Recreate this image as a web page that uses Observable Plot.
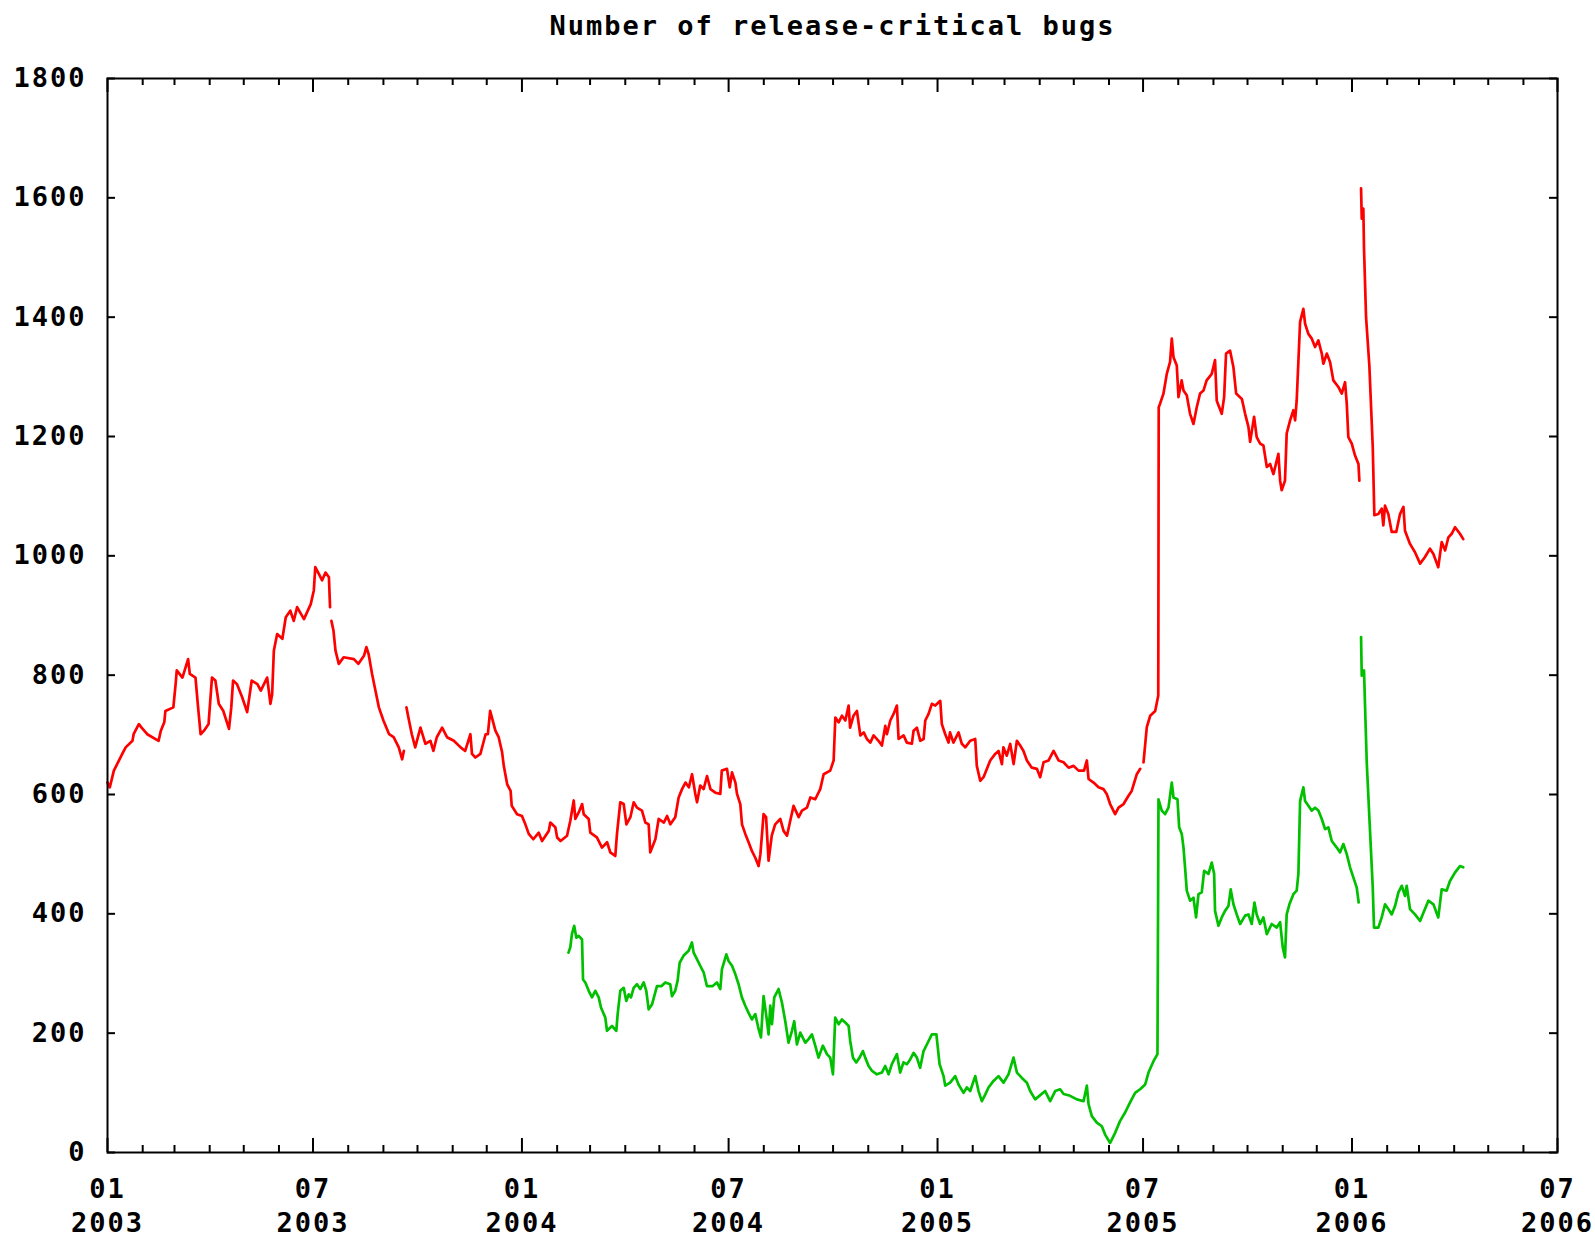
<!DOCTYPE html>
<html>
<head>
<meta charset="utf-8">
<script src="https://cdn.jsdelivr.net/npm/d3@7"></script>
<script src="https://cdn.jsdelivr.net/npm/@observablehq/plot@0.6"></script>
<style>
  body { margin: 0; background: #fff; }
  #chart svg { display: block; }
  #chart svg text { letter-spacing: 2px; }
</style>
</head>
<body>
<div id="chart"></div>
<script>
// ---------- chart text & axes ----------
const title = "Number of release-critical bugs";
const originDate = "2003-01-01";            // day 0 of the day offsets below
const xDomain = ["2003-01-01", "2006-07-01"];
const yDomain = [0, 1800];
const yTicks = [0, 200, 400, 600, 800, 1000, 1200, 1400, 1600, 1800];
const xMajorTicks = ["2003-01-01", "2003-07-01", "2004-01-01", "2004-07-01", "2005-01-01", "2005-07-01", "2006-01-01", "2006-07-01"];
const xMajorLabels = ["01\n2003", "07\n2003", "01\n2004", "07\n2004", "01\n2005", "07\n2005", "01\n2006", "07\n2006"];
const xMinorTicks = [
  "2003-02-01","2003-03-01","2003-04-01","2003-05-01","2003-06-01","2003-08-01","2003-09-01","2003-10-01","2003-11-01","2003-12-01",
  "2004-02-01","2004-03-01","2004-04-01","2004-05-01","2004-06-01","2004-08-01","2004-09-01","2004-10-01","2004-11-01","2004-12-01",
  "2005-02-01","2005-03-01","2005-04-01","2005-05-01","2005-06-01","2005-08-01","2005-09-01","2005-10-01","2005-11-01","2005-12-01",
  "2006-02-01","2006-03-01","2006-04-01","2006-05-01","2006-06-01"
];

// ---------- series 1 (red): days since 2003-01-01, value (null = gap) ----------
const redDays = [
  0,2,5.6,13,16,22,23,27.6,30,35,45,47,50,51,58,60,61,66,71,72.5,77.5,79.5,82,85,89,92,95,98,102,107,109,110.6,114,118.6,123,127,132,135,140.6,143.5,145,146.5,149.4,154,157,161,164,167,173,179,181.7,183,186,189,192,195,196,
  196.6,
  197.2,199,200.8,203.7,208,217,221,226,228,230,233,236,239,243,248,252,256.5,259.5,261,
  262,
  263.3,265,268,271,275.6,280,284.4,287,290,294.7,299,305,311,315,319.6,321,324,328.4,333,335,
  337,341.6,344.5,347.5,349,352,355,356,360.7,365,368,371,375,379.8,382.7,388.6,390,394.4,396,399,404.7,407.6,410.6,412,415,418,419.4,423.8,425.2,431,435.5,440,442.8,447.2,448.7,451.6,454.6,457,460.5,463.4,466.3,470.7,473.7,476.6,478,482.5,485.4,490,492.8,495.7,500,503,506,509,512,514.8,517.7,519.2,522,525,528,531,535.3,539.7,541,545.6,548,550,553,554.4,557.3,558.8,561.7,564.6,567.6,570.5,573.4,575,577.8,580,582.2,585,588,592.5,595.4,598.4,601.3,604.2,608.7,611.6,616,619,623.3,627.7,630.7,636.5,639.5,641,643.9,646.8,649.8,652.7,654,657,660,663,666,668.8,671.8,674.7,679,682,685,686.4,689.4,692.3,695.2,696.7,701.1,704,708.4,709.9,712.8,715.8,718.7,720.2,723.1,726,729,733.4,734.8,737.8,740.7,742,745,749.5,752.4,755.4,759.8,764.2,765.6,768.6,771.5,774.5,777.4,781.8,784.7,
  787.7,789,792,795,798,800.9,803.8,806.7,809.7,814,818.5,821.4,824.4,828.8,833.2,837.6,842,846.4,850.8,855.2,860,862.5,864,868.4,872.8,877.2,880,883,887.4,890.4,894.8,899.2,902,906.5,909.5,
  911,
  912.4,915.3,918.3,922.7,925.4,925.8,927,930,932.9,935.8,937.3,938.8,941.7,943.2,946,947.6,950.5,953.4,956.4,959.3,962.2,965.2,968,972.5,975.4,976.9,981.3,983.4,985.1,988.6,991.6,994,999,1001.9,1004.8,1006.3,1009.8,1012.1,1015.1,1018,1021,1023.9,1026.8,1031.2,1032.7,1034.1,1037,1038.5,1041.5,1044.4,1045.9,1047.3,1050.3,1053.2,1054.7,1057.6,1060.6,1063.5,1066.4,1069.4,1070.8,1073.8,1076.7,1079.6,1084,1087,1089.9,1091.4,1092.8,1095.8,1098.7,1101.7,1102.5,
  1103.2,
  1104,1104.6,1106,1106.6,1108.4,1111.3,1114.3,1115.7,1119.2,1122.2,1123.6,1125.1,1128,1131,1135,1138.3,1141.3,1142.7,1147.1,1151.5,1156,1160.3,1164.7,1167.7,1172,1175,1178,1180.9,1183.8,1186.8,1191.1,1194
];
const redValues = [
  620,612,640,668,679,690,701,718,712,701,690,707,721,740,746,785,808,796,827,802,796,752,701,707,718,796,791,752,740,710,746,791,785,763,738,791,785,774,796,752,768,841,869,861,897,908,891,914,894,919,942,981,970,959,972,964,914,
  null,
  891,875,841,819,830,827,819,833,847,835,802,774,746,724,701,696,679,659,673,
  null,
  746,729,701,679,712,685,690,673,696,712,696,690,679,673,701,668,662,668,701,701,
  740,707,696,671,648,617,606,581,567,564,550,534,525,536,522,539,553,545,528,522,531,556,590,559,570,584,567,559,536,528,511,520,503,497,534,587,584,550,562,587,578,573,553,550,503,525,559,553,564,550,562,595,609,620,612,634,601,587,615,609,631,609,603,601,640,643,612,637,620,601,584,550,534,520,505,494,480,500,567,562,489,531,550,559,539,531,556,581,562,573,578,595,592,609,634,640,657,729,721,732,724,749,712,732,740,699,704,693,687,699,690,682,715,701,724,735,749,693,699,687,685,707,712,690,693,724,735,752,749,757,718,701,687,704,687,704,685,679,690,693,648,623,629,643,657,668,673,
  651,679,665,685,651,690,682,673,657,645,643,629,654,657,673,657,654,645,648,640,640,657,626,620,612,609,601,584,567,578,584,598,606,634,643,
  null,
  654,713,732,740,766,1249,1255,1272,1305,1325,1364,1333,1319,1266,1294,1277,1269,1238,1221,1249,1272,1277,1294,1305,1328,1260,1238,1266,1339,1344,1316,1272,1263,1238,1216,1191,1233,1199,1188,1185,1149,1154,1137,1171,1126,1110,1126,1205,1227,1244,1227,1260,1392,1414,1389,1372,1364,1350,1361,1339,1322,1339,1325,1294,1283,1272,1291,1255,1199,1188,1168,1154,1126,
  null,
  1616,1565,1582,1515,1400,1319,1182,1068,1070,1079,1051,1084,1070,1040,1040,1070,1082,1042,1020,1006,987,998,1012,1003,981,1023,1009,1031,1037,1048,1037,1028
];

// ---------- series 2 (green): days since 2003-01-01, value (null = gap) ----------
const greenDays = [
  406,407.6,409,411,412.9,415,417.9,418.8,420.8,423.8,426.7,429.6,432.6,434.6,438.4,439.9,444.3,448.1,449.3,451.6,454.6,456.9,459,461,463.4,466.3,469.2,472.2,474.5,476.6,479.5,483.9,488,491.2,495.6,497.1,500,502.1,503.9,507.4,511.8,514.7,516.2,519.1,522,525,527.9,533,536.7,539.7,541.1,545,547,550,552.9,555.8,558.7,561.7,564.6,567.5,570.5,573.4,575.5,577.8,580.2,582.2,583.7,585.2,587.2,591,594,596.9,599.8,602.8,604.8,607.2,610.1,614.5,617.4,620.4,623.3,626.2,630,633.6,636.5,638.9,640.9,643.9,646.8,649.7,652.7,654.1,656.5,659.4,662.3,665.3,667.3,670.3,673.2,677.6,682,684.9,687.9,690.8,695.2,698.1,701,704,706.9,709.9,712.8,715.7,718.7,721.6,726,730,732.8,736.3,737.8,742.1,746.6,749.5,753.9,756.8,759.8,764.2,767.1,770,773,775.9,780.3,784.7,789.1,793.5,797.9,800.9,805.3,809.7,812.6,817,825.8,830.2,834.6,839,
  842,847.8,853.7,859.6,862.5,864,866.9,871.3,875.7,878.6,883,887.4,891.8,896.2,900.6,905,909.4,913.9,916.8,921.2,924.7,925.6,
  928.5,931.4,934.4,937.3,938.8,942.3,943.8,946.1,947.6,949,950.5,953.4,956.4,958.7,960.8,963.7,965.8,969.6,972.5,974.6,975.4,978.4,981.3,984.2,987.2,989.2,991.6,994.5,997.5,1001.9,1004.8,1007.7,1010.1,1012.1,1015.1,1018,1021,1025.3,1029.7,1032.7,1035,1037,1038.5,1040.9,1044.4,1047.3,1048.8,1050.3,1053.2,1054.7,1057.6,1060.6,1063.5,1066.4,1069.4,1072.3,1075.2,1078.2,1082.6,1085.5,1088.4,1091.4,1094.3,1097.2,1100.2,1101.9,
  1103,
  1104,1104.6,1106.6,1107.5,1109,1111.3,1114.3,1115.4,1119.2,1122.2,1125.1,1128,1131,1133.9,1136.9,1139.8,1142.7,1144.2,1147.1,1151.5,1156,1158.9,1163.3,1167.7,1172,1175,1179.4,1182.3,1186.7,1191.1,1194
];
const greenValues = [
  335,344,366,380,360,363,357,290,285,271,260,271,260,243,226,204,212,204,232,271,276,254,265,260,276,282,274,285,271,240,248,279,279,285,282,262,271,288,318,330,338,352,335,324,313,302,279,279,285,274,307,332,321,313,299,282,260,246,234,223,232,207,193,262,229,198,246,215,260,274,251,220,184,204,220,181,201,184,190,198,179,159,179,165,159,131,226,215,223,218,212,187,159,151,159,170,159,145,137,131,134,145,131,148,165,134,151,148,156,167,159,142,170,181,198,198,148,128,112,117,128,114,100,109,103,128,103,86,97,109,120,128,117,131,159,134,125,117,103,89,103,86,103,106,
  98,95,89,86,112,81,61,50,44,30,16,33,53,67,84,100,106,114,134,153,165,592,
  573,567,578,620,595,592,545,534,511,478,439,422,427,394,433,436,472,467,486,467,405,380,394,405,413,441,416,399,383,397,399,383,419,399,383,394,366,383,377,386,344,327,399,416,433,439,467,589,612,589,581,573,578,573,559,542,545,522,511,503,517,500,478,461,444,419,
  null,
  864,799,808,749,654,562,444,377,377,394,416,408,399,413,436,447,430,447,408,399,388,402,422,416,394,441,439,455,469,480,478
];

// ---------- build tables ----------
const origin = new Date(originDate + "T00:00:00Z");
const toDate = d => new Date(+origin + d * 864e5);
const red = redDays.map((d, i) => ({date: toDate(d), value: redValues[i]}));
const green = greenDays.map((d, i) => ({date: toDate(d), value: greenValues[i]}));
const parse = s => new Date(s + "T00:00:00Z");
const majorDates = xMajorTicks.map(parse);
const minorDates = xMinorTicks.map(parse);
const labelByTime = new Map(majorDates.map((d, i) => [+d, xMajorLabels[i]]));

// ---------- layout ----------
const W = 1595, H = 1238;
const mT = 78, mR = 38, mB = 86, mL = 107;
const plotW = W - mL - mR, plotH = H - mT - mB;
const minorLen = 7, majorLen = 14, yLen = 8;

const chart = Plot.plot({
  width: W,
  height: H,
  marginTop: mT, marginRight: mR, marginBottom: mB, marginLeft: mL,
  style: {fontFamily: "'DejaVu Sans Mono', monospace", fontWeight: "bold", fontSize: "27px", color: "#000", background: "#fff"},
  x: {type: "utc", domain: xDomain.map(parse)},
  y: {domain: yDomain},
  marks: [
    // inward tick marks on all four sides
    Plot.tickY(yTicks, {y: d => d, insetRight: plotW - yLen, stroke: "#000", strokeWidth: 2}),
    Plot.tickY(yTicks, {y: d => d, insetLeft: plotW - yLen, stroke: "#000", strokeWidth: 2}),
    Plot.tickX(minorDates, {x: d => d, insetTop: plotH - minorLen, stroke: "#000", strokeWidth: 2}),
    Plot.tickX(minorDates, {x: d => d, insetBottom: plotH - minorLen, stroke: "#000", strokeWidth: 2}),
    Plot.tickX(majorDates, {x: d => d, insetTop: plotH - majorLen, stroke: "#000", strokeWidth: 2}),
    Plot.tickX(majorDates, {x: d => d, insetBottom: plotH - majorLen, stroke: "#000", strokeWidth: 2}),
    // tick labels
    Plot.axisY({ticks: yTicks, tickSize: 0, tickPadding: 21, label: null, tickFormat: d => String(d)}),
    Plot.axisX({ticks: majorDates, tickSize: 0, tickPadding: 22, label: null, lineHeight: 1.25,
                tickFormat: d => labelByTime.get(+d)}),
    // data
    Plot.line(red, {x: "date", y: "value", stroke: "#ff0000", strokeWidth: 2.7}),
    Plot.line(green, {x: "date", y: "value", stroke: "#00c000", strokeWidth: 2.7}),
    Plot.frame({stroke: "#000", strokeWidth: 2}),
    // title
    Plot.text([title], {frameAnchor: "top", dy: -63, text: d => d, fontSize: 27, fontWeight: "bold", fill: "#000"})
  ]
});
document.getElementById("chart").appendChild(chart);
</script>
</body>
</html>
